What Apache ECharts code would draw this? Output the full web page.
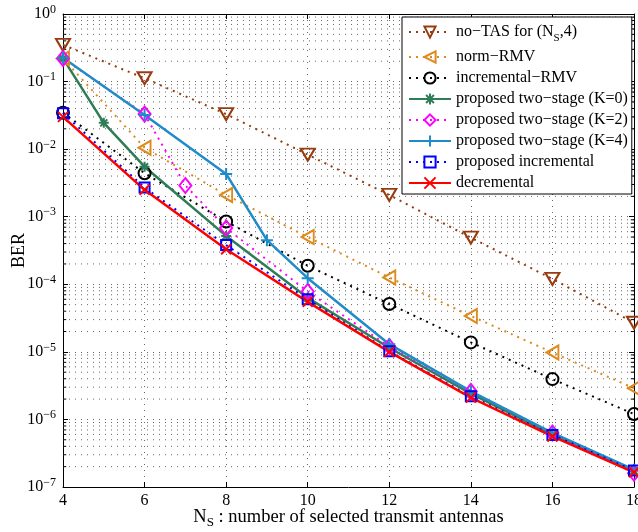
<!DOCTYPE html>
<html><head><meta charset="utf-8">
<script src="https://cdn.jsdelivr.net/npm/echarts@6/dist/echarts.min.js"></script>
<style>html,body{margin:0;padding:0;background:#fff}#c{width:638px;height:532px}</style>
</head><body><div id="c"></div>
<script>
// ---- data ----
const xEven = [4, 6, 8, 10, 12, 14, 16, 18];
const noTAS = [0.35, 0.112, 0.033, 0.0083, 0.0021, 4.9e-4, 1.2e-4, 2.7e-5];
const normRMV = [0.22, 0.0105, 0.0021, 5.0e-4, 1.26e-4, 3.4e-5, 9.8e-6, 2.9e-6];
const incRMV = [0.0347, 0.0044, 8.5e-4, 1.88e-4, 5.1e-5, 1.38e-5, 3.95e-6, 1.2e-6];
const k0X = [4, 5, 6, 8, 10, 12, 14, 16, 18];
const k0 = [0.22, 0.0245, 0.0055, 5.2e-4, 6.3e-5, 1.15e-5, 2.4e-6, 6.0e-7, 1.75e-7];
const k2X = [4, 6, 7, 8, 10, 12, 14, 16, 18];
const k2 = [0.22, 0.033, 0.0029, 6.8e-4, 7.8e-5, 1.2e-5, 2.6e-6, 6.3e-7, 1.6e-7];
const k4X = [4, 6, 8, 9, 10, 12, 14, 16, 18];
const k4 = [0.225, 0.032, 0.0043, 4.5e-4, 1.23e-4, 1.3e-5, 2.6e-6, 6.3e-7, 1.8e-7];
const propInc = [0.034, 0.0027, 3.8e-4, 6.0e-5, 1.02e-5, 2.2e-6, 5.9e-7, 1.75e-7];
const decr = [0.030, 0.0025, 3.3e-4, 5.5e-5, 1.0e-5, 2.1e-6, 5.6e-7, 1.65e-7];
const yDecades = [1e-7, 1e-6, 1e-5, 1e-4, 1e-3, 1e-2, 1e-1, 1];
const seriesNames = ['no−TAS for (NS,4)', 'norm−RMV', 'incremental−RMV',
  'proposed two−stage (K=0)', 'proposed two−stage (K=2)', 'proposed two−stage (K=4)',
  'proposed incremental', 'decremental'];

// ---- build ----
const pairs = (xs, ys) => xs.map((x, i) => [x, ys[i]]);
const FONT = 'Liberation Serif';
const X0 = 4, X1 = 18;
const minorVals = [];
yDecades.slice(0, -1).forEach(d => { for (let m = 2; m <= 9; m++) minorVals.push(d * m); });

const SYM = {
  down: 'path://M0,0L10,0L5,8.66Z',
  left: 'path://M0,5L8.66,0L8.66,10Z',
  plus: 'path://M5,0L5,10M0,5L10,5',
  star: 'path://M5,0L5,10M0,5L10,5M1.5,1.5L8.5,8.5M1.5,8.5L8.5,1.5',
  cross: 'path://M0,0L10,10M0,10L10,0'
};
function mk(name, data, color, dotted, symbol, size) {
  return {
    name, type: 'line', data, symbol, symbolSize: size,
    lineStyle: { color, width: dotted ? 2 : 2.5, type: dotted ? [2, 5] : 'solid' },
    itemStyle: { color: 'transparent', borderColor: color, borderWidth: 2 },
    emphasis: { disabled: true }, animation: false, z: 3
  };
}

const gridLine = { color: '#666', width: 1, type: [1, 5] };
// helper series: minor grid lines and minor ticks, drawn through the axis scales
const minorGridData = [];
minorVals.forEach(v => { minorGridData.push([X0, v], [X1, v], [X0, '-']); });
const minorTickData = [];
minorVals.forEach(v => {
  minorTickData.push([X0, v], [X0 + 0.08, v], [X0, '-']);
  minorTickData.push([X1 - 0.08, v], [X1, v], [X1, '-']);
});
const helper = (data, style, z) => ({
  type: 'line', data, symbol: 'none', silent: true, z, animation: false,
  connectNulls: false, lineStyle: style, emphasis: { disabled: true }, tooltip: { show: false }
});

const series = [
  helper(minorGridData, gridLine, 1),
  helper(minorTickData, { color: '#000', width: 1, type: 'solid' }, 2),
  mk(seriesNames[0], pairs(xEven, noTAS), '#973c10', true, SYM.down, [14, 12]),
  mk(seriesNames[1], pairs(xEven, normRMV), '#de8a1c', true, SYM.left, [12, 14]),
  mk(seriesNames[2], pairs(xEven, incRMV), '#000000', true, 'circle', 12),
  mk(seriesNames[3], pairs(k0X, k0), '#2e7d57', false, SYM.star, 10),
  mk(seriesNames[4], pairs(k2X, k2), '#ff00ff', true, 'diamond', [12, 15]),
  mk(seriesNames[5], pairs(k4X, k4), '#1f8bc9', false, SYM.plus, 12),
  mk(seriesNames[6], pairs(xEven, propInc), '#0000ff', true, 'rect', 10),
  mk(seriesNames[7], pairs(xEven, decr), '#ff0000', false, SYM.cross, 10)
];

const supFmt = v => {
  const e = Math.round(Math.log10(v));
  return '10{sup|' + (e < 0 ? '−' + (-e) : String(e)) + '}';
};

const option = {
  animation: false,
  backgroundColor: '#fff',
  grid: { left: 63, top: 14, right: 4, bottom: 45, show: false, outerBoundsMode: 'none' },
  legend: {
    orient: 'vertical', left: 402, top: 17, z: 20,
    backgroundColor: '#fff', borderColor: '#000', borderWidth: 1,
    padding: [7, 4, 3, 6], itemGap: 5, itemWidth: 42, itemHeight: 14,
    data: seriesNames,
    textStyle: {
      fontFamily: FONT, fontSize: 16, color: '#000', lineHeight: 16,
      rich: { sub: { fontFamily: FONT, fontSize: 11, padding: [9, 0, 0, 0], verticalAlign: 'top', lineHeight: 16 } }
    },
    formatter: n => n === seriesNames[0] ? 'no−TAS for (N{sub|S},4)' : n
  },
  xAxis: [{
    type: 'value', min: X0, max: X1, interval: 2,
    axisLine: { onZero: false, lineStyle: { color: '#000', width: 1 } },
    axisTick: { inside: true, length: 5, lineStyle: { color: '#000' } },
    axisLabel: { fontFamily: FONT, fontSize: 16, color: '#000', margin: 6 },
    splitLine: { show: true, lineStyle: gridLine },
    name: 'N{sub|S} : number of selected transmit antennas',
    nameLocation: 'middle', nameGap: 18, nameMoveOverlap: false,
    nameTextStyle: {
      fontFamily: FONT, fontSize: 18.5, color: '#000',
      rich: { sub: { fontFamily: FONT, fontSize: 13, padding: [11, 0, 0, 0], verticalAlign: 'top' } }
    }
  }, {
    type: 'value', min: X0, max: X1, interval: 2, position: 'top',
    axisLine: { onZero: false, lineStyle: { color: '#000', width: 1 } },
    axisTick: { inside: true, length: 5, lineStyle: { color: '#000' } },
    axisLabel: { show: false }, splitLine: { show: false }
  }],
  yAxis: [{
    type: 'log', logBase: 10, min: 1e-7, max: 1, splitNumber: 7,
    axisLine: { onZero: false, lineStyle: { color: '#000', width: 1 } },
    axisTick: { inside: true, length: 5, lineStyle: { color: '#000' } },
    axisLabel: {
      fontFamily: FONT, fontSize: 16, color: '#000', margin: 7, verticalAlign: 'middle',
      formatter: supFmt,
      rich: { sup: { fontFamily: FONT, fontSize: 12, padding: [0, 0, 9, 0] } }
    },
    splitLine: { show: true, lineStyle: gridLine },
    minorTick: { show: false }, minorSplitLine: { show: false },
    name: 'BER', nameLocation: 'middle', nameGap: 35, nameRotate: 90, nameMoveOverlap: false,
    nameTextStyle: { fontFamily: FONT, fontSize: 18, color: '#000' }
  }, {
    type: 'log', logBase: 10, min: 1e-7, max: 1, splitNumber: 7, position: 'right',
    axisLine: { onZero: false, lineStyle: { color: '#000', width: 1 } },
    axisTick: { inside: true, length: 5, lineStyle: { color: '#000' } },
    axisLabel: { show: false }, splitLine: { show: false }
  }],
  series
};
const chart = echarts.init(document.getElementById('c'), null, { renderer: 'canvas' });
chart.setOption(option);
</script></body></html>
